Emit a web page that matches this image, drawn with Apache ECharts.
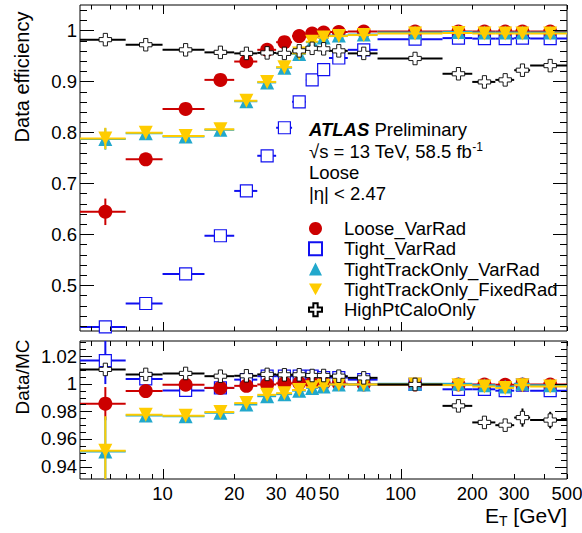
<!DOCTYPE html>
<html><head><meta charset="utf-8">
<script src="https://cdn.jsdelivr.net/npm/echarts@6/dist/echarts.min.js"></script>
<style>html,body{margin:0;padding:0;background:#fff}#c{width:582px;height:533px}</style>
</head><body><div id="c"></div>
<script>
// ---- bins (E_T, GeV) ----
const binLo     = [4.5, 7, 10, 15, 20, 25, 30, 35, 40, 45, 50, 60, 80, 150, 200, 250, 300, 350];
const binHi     = [7, 10, 15, 20, 25, 30, 35, 40, 45, 50, 60, 80, 150, 200, 250, 300, 350, 500];
const binCenter = [5.75, 8.5, 12.5, 17.5, 22.5, 27.5, 32.5, 37.5, 42.5, 47.5, 55, 70, 115, 175, 225, 275, 325, 425];

// ---- top panel: data efficiency ----
const looseEff   = [0.644, 0.747, 0.846, 0.903, 0.939, 0.962, 0.977, 0.989, 0.994, 0.996, 0.997, 0.998, 0.998, 0.998, 0.998, 0.998, 0.998, 0.998];
const looseErr   = [0.026, 0.004, 0.002, 0.001, 0.001, 0.001, 0.001, 0.001, 0.001, 0.001, 0.001, 0.001, 0.001, 0.001, 0.001, 0.001, 0.001, 0.001];
const tightEff   = [0.418, 0.464, 0.522, 0.597, 0.685, 0.754, 0.809, 0.860, 0.903, 0.923, 0.946, 0.962, 0.983, 0.985, 0.984, 0.984, 0.985, 0.984];
const tightErr   = [0.008, 0.003, 0.002, 0.002, 0.001, 0.001, 0.001, 0.001, 0.001, 0.001, 0.001, 0.001, 0.001, 0.001, 0.001, 0.001, 0.001, 0.001];
const ttoVarEff  = [0.787, 0.798, 0.792, 0.805, 0.861, 0.898, 0.927, 0.954, 0.977, 0.986, 0.990, 0.992, 0.996, 0.997, 0.996, 0.996, 0.996, 0.996];
const ttoVarErr  = [0.021, 0.004, 0.002, 0.001, 0.001, 0.001, 0.001, 0.001, 0.001, 0.001, 0.001, 0.001, 0.001, 0.001, 0.001, 0.001, 0.001, 0.001];
const ttoFixEff  = [0.788, 0.799, 0.793, 0.806, 0.862, 0.899, 0.928, 0.955, 0.978, 0.986, 0.989, 0.991, 0.994, 0.995, 0.994, 0.994, 0.994, 0.994];
const ttoFixErr  = [0.021, 0.004, 0.002, 0.001, 0.001, 0.001, 0.001, 0.001, 0.001, 0.001, 0.001, 0.001, 0.001, 0.001, 0.001, 0.001, 0.001, 0.001];
const highPtEff  = [0.982, 0.972, 0.962, 0.957, 0.955, 0.956, 0.955, 0.960, 0.965, 0.964, 0.960, 0.955, 0.945, 0.915, 0.899, 0.903, 0.922, 0.931];
const highPtErr  = [0.002, 0.002, 0.001, 0.001, 0.001, 0.001, 0.001, 0.001, 0.001, 0.001, 0.001, 0.001, 0.001, 0.002, 0.002, 0.003, 0.004, 0.004];

// ---- bottom panel: Data/MC ----
const looseRatio   = [0.9856, 0.9947, 0.9993, 0.9970, 0.9985, 0.9995, 1.0003, 1.0005, 1.0005, 1.0003, 1.0000, 0.9995, 0.9995, 0.9995, 0.9995, 0.9993, 0.9995, 0.9995];
const looseRErr    = [0.012, 0.002, 0.001, 0.001, 0.001, 0.001, 0.001, 0.001, 0.001, 0.001, 0.001, 0.001, 0.001, 0.001, 0.001, 0.001, 0.001, 0.001];
const tightRatio   = [1.0168, 1.0035, 0.9952, 0.9970, 1.0030, 1.0055, 1.0055, 1.0055, 1.0055, 1.0045, 1.0045, 1.0030, 0.9995, 0.9960, 0.9960, 0.9950, 0.9990, 0.9950];
const tightRErr    = [0.017, 0.003, 0.001, 0.001, 0.001, 0.001, 0.001, 0.001, 0.001, 0.001, 0.001, 0.001, 0.001, 0.001, 0.001, 0.001, 0.001, 0.001];
const ttoVarRatio  = [0.9510, 0.9770, 0.9765, 0.9790, 0.9850, 0.9910, 0.9925, 0.9950, 0.9970, 0.9980, 0.9995, 0.9995, 1.0000, 1.0000, 0.9990, 0.9980, 1.0000, 0.9990];
const ttoVarRErr   = [0.025, 0.003, 0.001, 0.001, 0.001, 0.001, 0.001, 0.001, 0.001, 0.001, 0.001, 0.001, 0.001, 0.001, 0.001, 0.001, 0.001, 0.001];
const ttoFixRatio  = [0.9515, 0.9775, 0.9768, 0.9795, 0.9860, 0.9920, 0.9932, 0.9955, 0.9975, 0.9985, 0.9995, 0.9995, 0.9995, 0.9990, 0.9980, 0.9970, 0.9990, 0.9980];
const ttoFixRErr   = [0.025, 0.003, 0.001, 0.001, 0.001, 0.001, 0.001, 0.001, 0.001, 0.001, 0.001, 0.001, 0.001, 0.001, 0.001, 0.001, 0.001, 0.001];
const highPtRatio  = [1.0104, 1.0068, 1.0075, 1.0055, 1.0058, 1.0068, 1.0065, 1.0065, 1.0060, 1.0060, 1.0055, 1.0043, 0.9995, 0.9840, 0.9720, 0.9700, 0.9755, 0.9737];
const highPtRErr   = [0.004, 0.002, 0.001, 0.001, 0.001, 0.001, 0.001, 0.001, 0.001, 0.001, 0.001, 0.001, 0.001, 0.003, 0.002, 0.004, 0.0066, 0.006];

// ---- names ----
const seriesNames = ['Loose_VarRad', 'Tight_VarRad', 'TightTrackOnly_VarRad', 'TightTrackOnly_FixedRad', 'HighPtCaloOnly'];

// ---- axis ticks / labels ----
const xMajorTicks = [10, 100];
const xMinorTicks = [5, 6, 7, 8, 9, 20, 30, 40, 50, 60, 70, 80, 90, 200, 300, 400, 500];
const xLabelValues = [10, 20, 30, 40, 50, 100, 200, 300, 500];
const xLabelTexts  = ['10', '20', '30', '40', '50', '100', '200', '300', '500'];
const yTopMajor = [0.5, 0.6, 0.7, 0.8, 0.9, 1.0];
const yTopMinor = [0.42, 0.44, 0.46, 0.48, 0.52, 0.54, 0.56, 0.58, 0.62, 0.64, 0.66, 0.68, 0.72, 0.74, 0.76, 0.78, 0.82, 0.84, 0.86, 0.88, 0.92, 0.94, 0.96, 0.98, 1.02, 1.04];
const yTopLabels = ['0.5', '0.6', '0.7', '0.8', '0.9', '1'];
const yBotMajor = [0.94, 0.96, 0.98, 1.00, 1.02];
const yBotMinor = [0.935, 0.945, 0.95, 0.955, 0.965, 0.97, 0.975, 0.985, 0.99, 0.995, 1.005, 1.01, 1.015, 1.025, 1.03];
const yBotLabels = ['0.94', '0.96', '0.98', '1', '1.02'];

const X_MIN = 4.5, X_MAX = 500;
const Y_TOP = [0.41, 1.05];
const Y_BOT = [0.931, 1.031];

const FONT = '"Liberation Sans", Arial, Helvetica, sans-serif';
const FS = 18.5;

const COL = {
  red: '#cc0000', blue: '#1010f0', cyan: '#22a8cc', yellow: '#ffcc00', black: '#000000'
};
const crossPath = 'path://M-1,-3L1,-3L1,-1L3,-1L3,1L1,1L1,3L-1,3L-1,1L-3,1L-3,-1L-1,-1Z';
const downTriPath = 'path://M0,0L2,0L1,1.8Z';

const styles = {
  'Loose_VarRad':            { color: COL.red,    symbol: 'circle',    size: 14, fill: COL.red,    stroke: COL.red,    bw: 0 },
  'Tight_VarRad':            { color: COL.blue,   symbol: 'rect',      size: 12, fill: '#ffffff',  stroke: COL.blue,   bw: 1.2 },
  'TightTrackOnly_VarRad':   { color: COL.cyan,   symbol: 'triangle',  size: 14, fill: COL.cyan,   stroke: COL.cyan,   bw: 0 },
  'TightTrackOnly_FixedRad': { color: COL.yellow, symbol: downTriPath, size: 14, fill: COL.yellow, stroke: COL.yellow, bw: 0 },
  'HighPtCaloOnly':          { color: COL.black,  symbol: crossPath,   size: 12.5, fill: '#ffffff', stroke: COL.black, bw: 0.9 }
};

const topData = {
  'Loose_VarRad': [looseEff, looseErr],
  'Tight_VarRad': [tightEff, tightErr],
  'TightTrackOnly_VarRad': [ttoVarEff, ttoVarErr],
  'TightTrackOnly_FixedRad': [ttoFixEff, ttoFixErr],
  'HighPtCaloOnly': [highPtEff, highPtErr]
};
const botData = {
  'Loose_VarRad': [looseRatio, looseRErr],
  'Tight_VarRad': [tightRatio, tightRErr],
  'TightTrackOnly_VarRad': [ttoVarRatio, ttoVarRErr],
  'TightTrackOnly_FixedRad': [ttoFixRatio, ttoFixRErr],
  'HighPtCaloOnly': [highPtRatio, highPtRErr]
};
// drawing order (bottom -> top)
const drawOrder = ['Tight_VarRad', 'Loose_VarRad', 'TightTrackOnly_VarRad', 'TightTrackOnly_FixedRad', 'HighPtCaloOnly'];

function errSeries(grid, name, vals, errs, z) {
  const st = styles[name];
  return {
    type: 'custom', xAxisIndex: grid, yAxisIndex: grid, z: z, clip: true, silent: true,
    data: binCenter.map((c, i) => [c, vals[i], binLo[i], binHi[i], errs[i]]),
    encode: { x: [0, 2, 3], y: 1 },
    renderItem: function (params, api) {
      const xc = api.value(0), y = api.value(1), xl = api.value(2), xh = api.value(3), e = api.value(4);
      const pL = api.coord([xl, y]), pH = api.coord([xh, y]);
      const pT = api.coord([xc, y + e]), pB = api.coord([xc, y - e]);
      const ls = { stroke: st.color, lineWidth: 2 };
      return { type: 'group', children: [
        { type: 'line', shape: { x1: pL[0], y1: pL[1], x2: pH[0], y2: pH[1] }, style: ls },
        { type: 'line', shape: { x1: pT[0], y1: pT[1], x2: pB[0], y2: pB[1] }, style: ls }
      ]};
    }
  };
}
function markerSeries(grid, name, vals, z) {
  const st = styles[name];
  return {
    type: 'scatter', name: name, xAxisIndex: grid, yAxisIndex: grid, z: z, silent: true,
    symbol: st.symbol, symbolSize: st.size,
    itemStyle: { color: st.fill, borderColor: st.stroke, borderWidth: st.bw, opacity: 1 },
    data: binCenter.map((c, i) => [c, vals[i]])
  };
}

function tickSeries(grid, list, dir, len) {
  const yRef = grid === 0 ? Y_TOP[0] : Y_BOT[0];
  return {
    type: 'custom', xAxisIndex: grid, yAxisIndex: grid, silent: true, z: 60, clip: false,
    data: list.map(v => dir === 'x' ? [v, yRef] : [X_MIN, v]),
    encode: { x: 0, y: 1 },
    renderItem: function (params, api) {
      const cs = params.coordSys;
      const p = api.coord([api.value(0), api.value(1)]);
      const st = { stroke: '#000', lineWidth: 1 };
      if (dir === 'x') {
        const x = Math.round(p[0]) + 0.5;
        return { type: 'group', children: [
          { type: 'line', shape: { x1: x, y1: cs.y + cs.height, x2: x, y2: cs.y + cs.height - len }, style: st },
          { type: 'line', shape: { x1: x, y1: cs.y, x2: x, y2: cs.y + len }, style: st }
        ]};
      }
      const y = Math.round(p[1]) + 0.5;
      return { type: 'group', children: [
        { type: 'line', shape: { x1: cs.x, y1: y, x2: cs.x + len, y2: y }, style: st },
        { type: 'line', shape: { x1: cs.x + cs.width, y1: y, x2: cs.x + cs.width - len, y2: y }, style: st }
      ]};
    }
  };
}
function labelSeries(grid, values, texts, dir) {
  const yRef = grid === 0 ? Y_TOP[0] : Y_BOT[0];
  return {
    type: 'custom', xAxisIndex: grid, yAxisIndex: grid, silent: true, z: 60, clip: false,
    data: values.map(v => dir === 'x' ? [v, yRef] : [X_MIN, v]),
    encode: { x: 0, y: 1 },
    renderItem: function (params, api) {
      const cs = params.coordSys;
      const p = api.coord([api.value(0), api.value(1)]);
      const t = texts[params.dataIndex];
      if (dir === 'x') {
        return { type: 'text', style: { text: t, x: p[0], y: cs.y + cs.height + 14, align: 'center', textAlign: 'center',
          verticalAlign: 'middle', textVerticalAlign: 'middle', fill: '#000', fontSize: FS, fontFamily: FONT } };
      }
      return { type: 'text', style: { text: t, x: cs.x - 3, y: p[1], align: 'right', textAlign: 'right',
        verticalAlign: 'middle', textVerticalAlign: 'middle', fill: '#000', fontSize: FS, fontFamily: FONT } };
    }
  };
}

const series = [];
drawOrder.forEach((name, k) => {
  const t = topData[name], b = botData[name];
  series.push(errSeries(0, name, t[0], t[1], 10 + 2 * k));
  series.push(markerSeries(0, name, t[0], 11 + 2 * k));
  series.push(errSeries(1, name, b[0], b[1], 10 + 2 * k));
  series.push(markerSeries(1, name, b[0], 11 + 2 * k));
});
series.push(tickSeries(0, xMajorTicks, 'x', 9));
series.push(tickSeries(0, xMinorTicks, 'x', 4.5));
series.push(tickSeries(0, yTopMajor, 'y', 14));
series.push(tickSeries(0, yTopMinor, 'y', 7));
series.push(labelSeries(0, yTopMajor, yTopLabels, 'y'));
series.push(tickSeries(1, xMajorTicks, 'x', 10));
series.push(tickSeries(1, xMinorTicks, 'x', 5));
series.push(tickSeries(1, yBotMajor, 'y', 12));
series.push(tickSeries(1, yBotMinor, 'y', 6));
series.push(labelSeries(1, yBotMajor, yBotLabels, 'y'));
series.push(labelSeries(1, xLabelValues, xLabelTexts, 'x'));

function hiddenAxis(extra) {
  return Object.assign({ axisLine: { show: false }, axisTick: { show: false }, axisLabel: { show: false }, splitLine: { show: false } }, extra);
}

const txt = (text, x, y, extra) => ({
  type: 'text', x: x, y: y, silent: true,
  style: Object.assign({ text: text, fill: '#000', fontSize: FS, fontFamily: FONT, align: 'left', textAlign: 'left',
    verticalAlign: 'middle', textVerticalAlign: 'middle' }, extra || {})
});

const option = {
  animation: false,
  backgroundColor: '#ffffff',
  grid: [
    { left: 80, top: 5, width: 487, height: 326, show: true, borderColor: '#000', borderWidth: 1, backgroundColor: 'transparent' },
    { left: 80, top: 341, width: 487, height: 138, show: true, borderColor: '#000', borderWidth: 1, backgroundColor: 'transparent' }
  ],
  xAxis: [
    hiddenAxis({ type: 'log', logBase: 10, gridIndex: 0, min: X_MIN, max: X_MAX }),
    hiddenAxis({ type: 'log', logBase: 10, gridIndex: 1, min: X_MIN, max: X_MAX })
  ],
  yAxis: [
    hiddenAxis({ type: 'value', gridIndex: 0, min: Y_TOP[0], max: Y_TOP[1] }),
    hiddenAxis({ type: 'value', gridIndex: 1, min: Y_BOT[0], max: Y_BOT[1] })
  ],
  legend: {
    data: seriesNames, orient: 'vertical', left: 303, top: 213.5,
    itemWidth: 13, itemHeight: 13, itemGap: 0.3, selectedMode: false,
    textStyle: { fontSize: FS, fontFamily: FONT, color: '#000', lineHeight: 20, padding: [0, 0, 0, 17] }
  },
  graphic: [
    txt('{a|ATLAS} {b|Preliminary}', 309, 129, { rich: {
      a: { fontSize: FS, fontFamily: FONT, fontWeight: 'bold', fontStyle: 'italic', fill: '#000' },
      b: { fontSize: FS, fontFamily: FONT, fill: '#000' } } }),
    txt('{n|√s = 13 TeV, 58.5 fb}{s|-1}', 309, 151.5, { rich: {
      n: { fontSize: FS, fontFamily: FONT, fill: '#000', lineHeight: 22 },
      s: { fontSize: 12, fontFamily: FONT, fill: '#000', lineHeight: 12, verticalAlign: 'top' } } }),
    txt('Loose', 309, 172),
    txt('|η| < 2.47', 309, 193.5),
    txt('Data efficiency', 22, 77, { align: 'center', textAlign: 'center', fontSize: 20 }),
    txt('Data/MC', 22, 377, { align: 'center', textAlign: 'center', fontSize: 19 }),
    txt('{e|E}{t|T}{e| [GeV]}', 567, 515, { align: 'right', textAlign: 'right', rich: {
      e: { fontSize: 21, fontFamily: FONT, fill: '#000', lineHeight: 26 },
      t: { fontSize: 14, fontFamily: FONT, fill: '#000', lineHeight: 13, verticalAlign: 'bottom' } } })
  ],
  series: series
};
// rotate the y titles
option.graphic[4].rotation = Math.PI / 2;
option.graphic[5].rotation = Math.PI / 2;

const chart = echarts.init(document.getElementById('c'), null, { renderer: 'svg', width: 582, height: 533 });
chart.setOption(option);
</script>
</body></html>
